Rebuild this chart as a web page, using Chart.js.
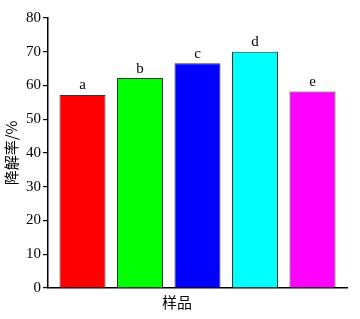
<!DOCTYPE html>
<html>
<head>
<meta charset="utf-8">
<script src="https://cdn.jsdelivr.net/npm/chart.js@4"></script>
<style>
  html, body { margin: 0; padding: 0; background: #fff; }
  #wrap { width: 360px; height: 319px; position: relative; }
</style>
</head>
<body>
<div id="wrap"><canvas id="myChart"></canvas></div>
<script>
// data
const sampleLabels = ['a', 'b', 'c', 'd', 'e'];
const degradation = [57.2, 62.2, 66.6, 70.0, 58.2];
const barColors = ['#ff0000', '#00ff00', '#0000ff', '#00ffff', '#ff00ff'];
const yTicks = [0, 10, 20, 30, 40, 50, 60, 70, 80];
const yTitle = '降解率/%';
const xTitle = '样品';

const serif = '"Liberation Serif", "DejaVu Serif", serif';
const cjk = '"Noto Sans CJK SC", sans-serif';

// letters above each bar + the axis titles
const labelPlugin = {
  id: 'labels',
  afterDatasetsDraw(chart) {
    const ctx = chart.ctx;
    const meta = chart.getDatasetMeta(0);
    ctx.save();
    ctx.fillStyle = '#000';
    ctx.font = '15px ' + serif;
    ctx.textAlign = 'center';
    ctx.textBaseline = 'bottom';
    meta.data.forEach((bar, i) => {
      ctx.fillText(sampleLabels[i], bar.x, bar.y - 2);
    });
    const area = chart.chartArea;
    ctx.font = '15px ' + cjk;
    ctx.textBaseline = 'middle';
    ctx.fillText(xTitle, 177, 302);
    ctx.translate(11, (area.top + area.bottom) / 2);
    ctx.rotate(-Math.PI / 2);
    ctx.fillText(yTitle, 0, 0);
    ctx.restore();
  }
};

const ctx = document.getElementById('myChart').getContext('2d');
const myChart = new Chart(ctx, {
  type: 'bar',
  data: {
    datasets: [{
      data: degradation.map((v, i) => ({ x: i, y: v })),
      backgroundColor: barColors,
      borderColor: '#333',
      borderWidth: 1,
      barPercentage: 1,
      categoryPercentage: 0.8
    }]
  },
  options: {
    responsive: true,
    maintainAspectRatio: false,
    animation: false,
    layout: { padding: { top: 18, right: 13, left: 0, bottom: 0 } },
    plugins: { legend: { display: false }, tooltip: { enabled: false } },
    scales: {
      x: {
        type: 'linear',
        min: -0.6,
        max: 4.6,
        offset: false,
        afterBuildTicks: s => { s.ticks = sampleLabels.map((_, i) => ({ value: i })); },
        ticks: { display: false },
        grid: { display: false },
        border: { display: true, color: '#000', width: 1.5 },
        afterFit: s => { s.height = 31; }
      },
      y: {
        min: 0,
        max: 80,
        afterBuildTicks: s => { s.ticks = yTicks.map(v => ({ value: v })); },
        ticks: { color: '#000', font: { family: serif, size: 15 }, padding: 2 },
        grid: { display: true, drawOnChartArea: false, drawTicks: true, tickLength: 5, color: '#000', lineWidth: 1.2 },
        border: { display: true, color: '#000', width: 1.5 },
        afterFit: s => { s.width = 48; }
      }
    }
  },
  plugins: [labelPlugin]
});
</script>
</body>
</html>
